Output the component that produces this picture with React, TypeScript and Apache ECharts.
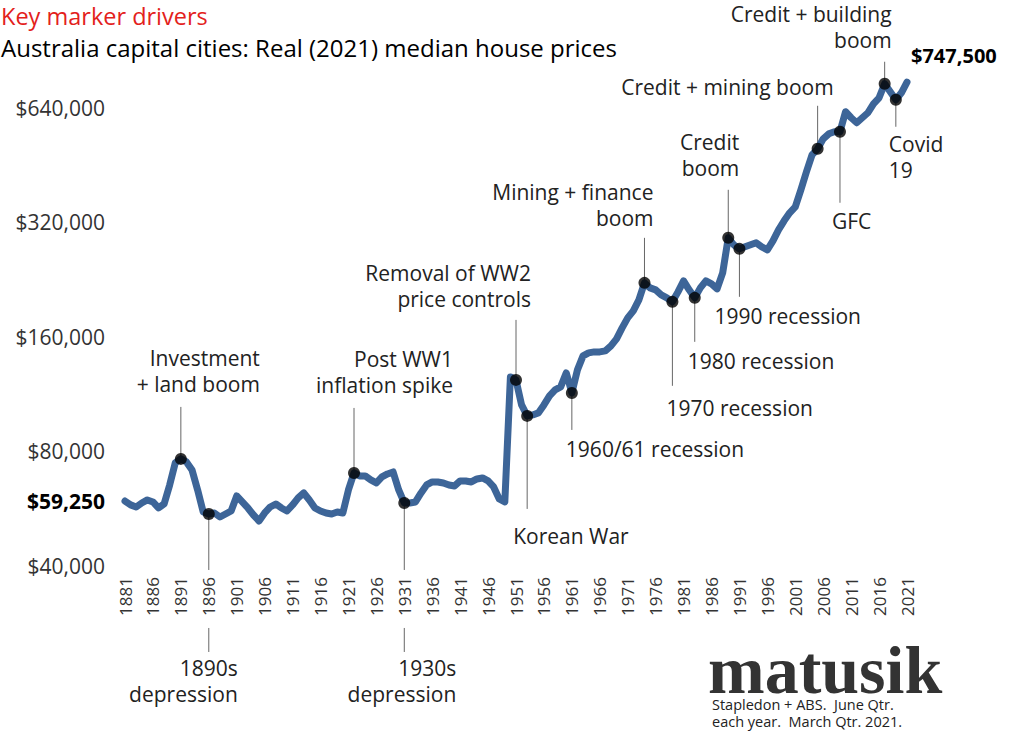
import React, { useEffect, useRef } from 'react';
import * as echarts from 'echarts';

const startYear = 1881;

// Real (2021) median house prices, Australian capital cities, 1881-2021
const prices: number[] = [
  59250, 57900, 57170, 58570, 59650, 58930, 56830, 58220, 65320, 74630,
  76460, 75080, 71530, 63370, 55460, 54800, 55130, 53810, 54800, 55800,
  61110, 58930, 56830, 54460, 52520, 55130, 57170, 58220, 56830, 55800,
  57870, 60380, 62230, 59650, 56830, 55800, 55130, 54800, 55460, 55130,
  63370, 70240, 68980, 68980, 67330, 66120, 68560, 69820, 70670, 63370,
  58570, 58570, 58930, 62230, 65320, 66520, 66520, 66120, 65320, 64920,
  66920, 66920, 66520, 67740, 68150, 66920, 64530, 60010, 58930, 125590,
  123330, 106010, 99180, 99780, 101000, 106010, 111930, 116080, 118210, 128670,
  113980, 131020, 142620, 145240, 146120, 146120, 147000, 151520, 158070, 168950,
  179500, 187300, 200200, 221870, 215280, 212690, 206350, 202640, 197800, 210130,
  224590, 212690, 202640, 215280, 224590, 220540, 213980, 235740, 291370, 279270,
  272590, 275910, 279270, 282680, 275910, 270940, 286120, 305820, 322910, 338910,
  351450, 389550, 434440, 481520, 499320, 530520, 546800, 553480, 553480, 624760,
  602440, 584480, 602440, 620960, 655600, 679840, 740120, 705000, 671680, 700760,
  747500,
];

const years: string[] = prices.map((_, i) => String(startYear + i));

const yTicks: number[] = [40000, 59250, 80000, 160000, 320000, 640000];
const boldTick = 59250;
const xLabelStep = 5;

const titleText = 'Key marker drivers';
const subtitleText = 'Australia capital cities: Real (2021) median house prices';
const brandText = 'matusik';
const sourceLine1 = 'Stapledon + ABS.  June Qtr.';
const sourceLine2 = 'each year.  March Qtr. 2021.';

type Ann = {
  year: number;
  text: string;
  lineTo: number;
  dx: number;
  dy: number;
  align: 'left' | 'right';
  vAlign: 'top' | 'bottom';
  gap?: [number, number];
};

const annotations: Ann[] = [
  { year: 1891, text: 'Investment\n+ land boom', lineTo: -52, dx: 79, dy: -62, align: 'right', vAlign: 'bottom' },
  { year: 1896, text: '1890s\ndepression', lineTo: 138, gap: [56, 114], dx: 29, dy: 141, align: 'right', vAlign: 'top' },
  { year: 1922, text: 'Post WW1\ninflation spike', lineTo: -65, dx: 99, dy: -75, align: 'right', vAlign: 'bottom' },
  { year: 1931, text: '1930s\ndepression', lineTo: 149, gap: [67, 125], dx: 52, dy: 152, align: 'right', vAlign: 'top' },
  { year: 1951, text: 'Removal of WW2\nprice controls', lineTo: -60, dx: 15, dy: -68, align: 'right', vAlign: 'bottom' },
  { year: 1953, text: 'Korean War', lineTo: 93, dx: -14, dy: 107, align: 'left', vAlign: 'top' },
  { year: 1961, text: '1960/61 recession', lineTo: 37, dx: -6, dy: 43, align: 'left', vAlign: 'top' },
  { year: 1974, text: 'Mining + finance\nboom', lineTo: -45, dx: 9, dy: -52, align: 'right', vAlign: 'bottom' },
  { year: 1979, text: '1970 recession', lineTo: 84, dx: -6, dy: 93, align: 'left', vAlign: 'top' },
  { year: 1983, text: '1980 recession', lineTo: 44, dx: -7, dy: 50, align: 'left', vAlign: 'top' },
  { year: 1989, text: 'Credit\nboom', lineTo: -48, dx: 11, dy: -57, align: 'right', vAlign: 'bottom' },
  { year: 1991, text: '1990 recession', lineTo: 48, dx: -25, dy: 54, align: 'left', vAlign: 'top' },
  { year: 2005, text: 'Credit + mining boom', lineTo: -43, dx: 16, dy: -49, align: 'right', vAlign: 'bottom' },
  { year: 2009, text: 'GFC', lineTo: 71, dx: -8, dy: 76, align: 'left', vAlign: 'top' },
  { year: 2017, text: 'Credit + building\nboom', lineTo: -22, dx: 7, dy: -31, align: 'right', vAlign: 'bottom' },
  { year: 2019, text: 'Covid\n19', lineTo: 27, dx: -7, dy: 31, align: 'left', vAlign: 'top' },
];

const FONT = '"Open Sans"';
const LINE_COLOR = '#3d6598';

function fmtMoney(v: number): string {
  return '$' + Math.round(v).toLocaleString('en-US');
}

export default function App() {
  const ref = useRef<HTMLDivElement>(null);

  useEffect(() => {
    if (!ref.current) return;
    const chart = echarts.init(ref.current, null, { renderer: 'svg' });

    const markerData = annotations.map((a) => {
      const idx = a.year - startYear;
      return [idx, prices[idx]];
    });

    chart.setOption({
      animation: false,
      backgroundColor: '#ffffff',
      grid: { left: 125, right: 117, top: 34, bottom: 165, containLabel: false },
      xAxis: {
        type: 'category',
        data: years,
        boundaryGap: false,
        axisLine: { show: false },
        axisTick: { show: false },
        splitLine: { show: false },
        axisLabel: {
          interval: xLabelStep - 1,
          rotate: 90,
          fontFamily: 'Open Sans',
          fontSize: 17,
          color: '#333',
          margin: 11,
        },
      },
      yAxis: {
        type: 'log',
        logBase: 2,
        min: 40000,
        max: 1000000,
        axisLine: { show: false },
        axisTick: { show: false },
        splitLine: { show: false },
        axisLabel: {
          customValues: yTicks,
          fontFamily: 'Open Sans',
          fontSize: 21,
          color: '#333',
          margin: 20,
          formatter: (v: number) =>
            Math.abs(v - boldTick) < 1 ? '{b|' + fmtMoney(v) + '}' : fmtMoney(v),
          rich: {
            b: { fontFamily: 'Open Sans', fontSize: 21, fontWeight: 'bold', color: '#000' },
          },
        },
      },
      series: [
        {
          type: 'line',
          data: prices,
          symbol: 'none',
          z: 2,
          lineStyle: { color: LINE_COLOR, width: 7, cap: 'round', join: 'round' },
        },
        {
          type: 'scatter',
          data: markerData,
          symbolSize: 12,
          z: 3,
          itemStyle: { color: '#000' },
        },
      ],
    });

    const gfx: any[] = [];
    const lineStyle = { stroke: '#666', lineWidth: 1 };
    annotations.forEach((a) => {
      const idx = a.year - startYear;
      const p = chart.convertToPixel({ gridIndex: 0 }, [idx, prices[idx]]) as number[];
      const px = p[0];
      const py = p[1];
      if (a.gap) {
        gfx.push({ type: 'line', z: 1, shape: { x1: px, y1: py, x2: px, y2: py + a.gap[0] }, style: lineStyle });
        gfx.push({ type: 'line', z: 1, shape: { x1: px, y1: py + a.gap[1], x2: px, y2: py + a.lineTo }, style: lineStyle });
      } else {
        gfx.push({ type: 'line', z: 1, shape: { x1: px, y1: py, x2: px, y2: py + a.lineTo }, style: lineStyle });
      }
      gfx.push({
        type: 'text',
        x: px + a.dx,
        y: py + a.dy,
        z: 5,
        style: {
          text: a.text,
          font: `21px ${FONT}`,
          fill: '#222',
          align: a.align,
          textAlign: a.align,
          verticalAlign: a.vAlign,
          textVerticalAlign: a.vAlign,
          lineHeight: 26,
        },
      });
    });

    const lastIdx = prices.length - 1;
    const pe = chart.convertToPixel({ gridIndex: 0 }, [lastIdx, prices[lastIdx]]) as number[];
    gfx.push({
      type: 'text',
      x: pe[0] + 4,
      y: pe[1] - 27,
      z: 5,
      style: {
        text: fmtMoney(prices[lastIdx]),
        font: `bold 20px ${FONT}`,
        fill: '#000',
        align: 'left',
        textAlign: 'left',
        verticalAlign: 'middle',
        textVerticalAlign: 'middle',
      },
    });

    gfx.push({
      type: 'text', x: 1, y: 16, z: 5,
      style: { text: titleText, font: `23.5px ${FONT}`, fill: '#e3211b', align: 'left', textAlign: 'left', verticalAlign: 'middle', textVerticalAlign: 'middle' },
    });
    gfx.push({
      type: 'text', x: 1, y: 47, z: 5,
      style: { text: subtitleText, font: `24px ${FONT}`, fill: '#000', align: 'left', textAlign: 'left', verticalAlign: 'middle', textVerticalAlign: 'middle' },
    });
    gfx.push({
      type: 'text', x: 708, y: 700, z: 5,
      style: { text: brandText, font: `bold 68px "Liberation Serif"`, fill: '#333', align: 'left', textAlign: 'left', verticalAlign: 'bottom', textVerticalAlign: 'bottom', lineHeight: 60 },
    });
    gfx.push({
      type: 'text', x: 712, y: 704, z: 5,
      style: { text: sourceLine1, font: `14.5px ${FONT}`, fill: '#222', align: 'left', textAlign: 'left', verticalAlign: 'middle', textVerticalAlign: 'middle' },
    });
    gfx.push({
      type: 'text', x: 712, y: 721, z: 5,
      style: { text: sourceLine2, font: `14.5px ${FONT}`, fill: '#222', align: 'left', textAlign: 'left', verticalAlign: 'middle', textVerticalAlign: 'middle' },
    });

    chart.setOption({ graphic: { elements: gfx } });

    return () => {
      chart.dispose();
    };
  }, []);

  return (
    <div
      ref={ref}
      style={{ position: 'absolute', left: 0, top: 0, width: 1024, height: 731, background: '#fff' }}
    />
  );
}
